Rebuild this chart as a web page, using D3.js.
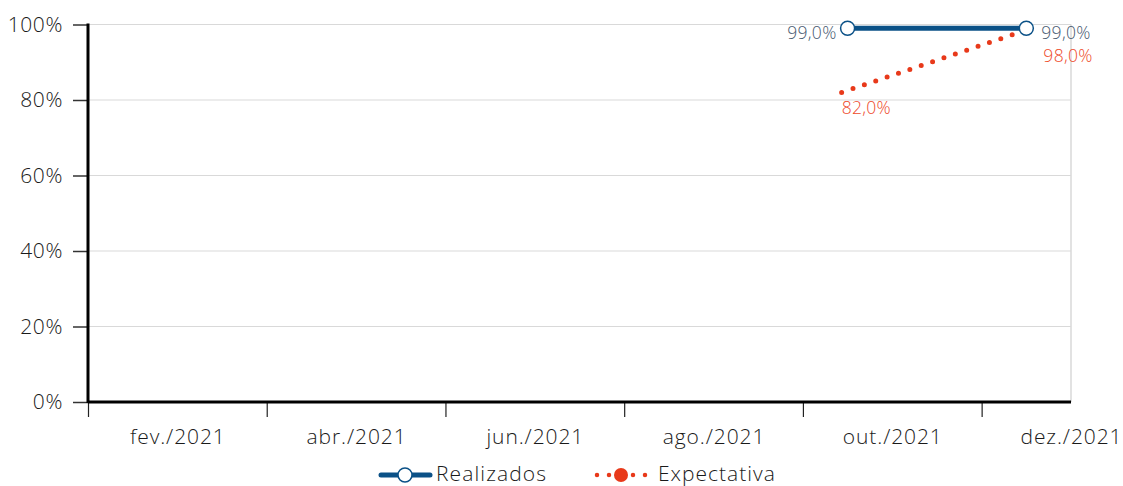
<!DOCTYPE html>
<html>
<head>
<meta charset="utf-8">
<script src="https://cdn.jsdelivr.net/npm/d3@7"></script>
<style>
  html, body { margin: 0; padding: 0; background: #fff; }
  svg text { font-family: "Open Sans", "Lato", sans-serif; font-weight: 300; }
</style>
</head>
<body>
<svg id="chart" width="1123" height="486"></svg>
<script>
// Month labels shown on the x axis (every other month)
const monthLabels = ["fev./2021", "abr./2021", "jun./2021", "ago./2021", "out./2021", "dez./2021"];
const labelMonths = [1, 3, 5, 7, 9, 11];     // month index (0 = jan)
const tickMonths = [0, 2, 4, 6, 8, 10];

// Series
const realizadosDates = ["2021-09-16", "2021-11-16"];
const realizadosValues = [0.99, 0.99];
const expectativaDates = ["2021-09-14", "2021-11-14"];
const expectativaValues = [0.82, 0.98];

const yTicks = [0, 0.2, 0.4, 0.6, 0.8, 1.0];

const colBlue = "#0b5187";
const colRed = "#e8391a";
const colBlueLabel = "#46586f";
const colRedLabel = "#ee4a2a";
const fontFam = "'Open Sans', Lato, sans-serif";

// fractional month position of a date
function monthPos(str) {
  const d = new Date(str + "T00:00:00");
  const m = d.getMonth();
  const days = new Date(d.getFullYear(), m + 1, 0).getDate();
  return m + (d.getDate() - 1) / days;
}

const margin = { left: 88, right: 1071, top: 24.5, bottom: 402 };
const svg = d3.select("#chart");

const x = d3.scaleLinear().domain([0, 11]).range([margin.left, margin.right]);
const y = d3.scaleLinear().domain([0, 1]).range([margin.bottom, margin.top]);

// gridlines
svg.append("g").selectAll("line").data(yTicks.filter(v => v > 0)).join("line")
  .attr("x1", margin.left).attr("x2", margin.right)
  .attr("y1", d => y(d)).attr("y2", d => y(d))
  .attr("stroke", "#d9d9d9").attr("stroke-width", 1);

// right border
svg.append("line")
  .attr("x1", margin.right).attr("x2", margin.right)
  .attr("y1", margin.top).attr("y2", margin.bottom)
  .attr("stroke", "#d9d9d9").attr("stroke-width", 1.5);

// y axis
const yAxis = svg.append("g").attr("transform", `translate(${margin.left},0)`)
  .call(d3.axisLeft(y).tickValues(yTicks).tickSize(15).tickPadding(10)
    .tickFormat(d => d3.format(".0%")(d)));
yAxis.select(".domain").remove();
yAxis.selectAll(".tick line").attr("stroke", "#333").attr("stroke-width", 1.5);
yAxis.selectAll(".tick text").attr("font-size", 21).attr("fill", "#1a1a1a")
  .attr("font-family", fontFam).attr("font-weight", 300)
  .attr("letter-spacing", 0.6);

svg.append("line")
  .attr("x1", margin.left).attr("x2", margin.left)
  .attr("y1", margin.top - 1).attr("y2", margin.bottom + 1)
  .attr("stroke", "#000").attr("stroke-width", 3);

// x axis: ticks every other month, labels between
const xTickG = svg.append("g").attr("transform", `translate(0,${margin.bottom})`)
  .call(d3.axisBottom(x).tickValues(tickMonths).tickSize(15).tickFormat(""));
xTickG.select(".domain").remove();
xTickG.selectAll(".tick line").attr("stroke", "#222").attr("stroke-width", 1.2);

const xLabelG = svg.append("g").attr("transform", `translate(0,${margin.bottom})`)
  .call(d3.axisBottom(x).tickValues(labelMonths).tickSize(0).tickPadding(27)
    .tickFormat((d, i) => monthLabels[i]));
xLabelG.select(".domain").remove();
xLabelG.selectAll(".tick text").attr("font-size", 21).attr("fill", "#1a1a1a")
  .attr("font-family", fontFam).attr("font-weight", 300)
  .attr("letter-spacing", 0.9);

svg.append("line")
  .attr("x1", margin.left).attr("x2", margin.right)
  .attr("y1", margin.bottom).attr("y2", margin.bottom)
  .attr("stroke", "#000").attr("stroke-width", 3);

// Expectativa: dotted line
const expData = expectativaDates.map((d, i) => ({ x: monthPos(d), v: expectativaValues[i] }));
const line = d3.line().x(d => x(d.x)).y(d => y(d.v));
svg.append("path").datum(expData).attr("d", line)
  .attr("fill", "none").attr("stroke", colRed).attr("stroke-width", 5)
  .attr("stroke-linecap", "round").attr("stroke-dasharray", "0 12");

// Realizados: solid line with hollow markers
const realData = realizadosDates.map((d, i) => ({ x: monthPos(d), v: realizadosValues[i] }));
svg.append("path").datum(realData).attr("d", line)
  .attr("fill", "none").attr("stroke", colBlue).attr("stroke-width", 5);
svg.append("g").selectAll("circle").data(realData).join("circle")
  .attr("cx", d => x(d.x)).attr("cy", d => y(d.v)).attr("r", 7)
  .attr("fill", "#fff").attr("stroke", colBlue).attr("stroke-width", 1.5);

// value labels
const pct = d => d3.format(".1f")(d * 100).replace(".", ",") + "%";
svg.append("g").selectAll("text").data(realData).join("text")
  .attr("x", (d, i) => i === 0 ? x(d.x) - 11 : x(d.x) + 15)
  .attr("y", d => y(d.v) + 11)
  .attr("text-anchor", (d, i) => i === 0 ? "end" : "start")
  .attr("font-size", 17.5).attr("font-weight", 400).attr("letter-spacing", 0.3)
  .attr("fill", colBlueLabel)
  .text(d => pct(d.v));
svg.append("g").selectAll("text").data(expData).join("text")
  .attr("x", (d, i) => i === 0 ? x(d.x) : x(d.x) + 23)
  .attr("y", (d, i) => i === 0 ? y(d.v) + 22 : y(d.v) + 30)
  .attr("text-anchor", "start")
  .attr("font-size", 17.5).attr("font-weight", 400).attr("letter-spacing", 0.3)
  .attr("fill", colRedLabel)
  .text(d => pct(d.v));

// legend
const lg = svg.append("g");
const ly = 475;
lg.append("line").attr("x1", 381).attr("x2", 430).attr("y1", ly).attr("y2", ly)
  .attr("stroke", colBlue).attr("stroke-width", 5).attr("stroke-linecap", "round");
lg.append("circle").attr("cx", 405).attr("cy", ly).attr("r", 7)
  .attr("fill", "#fff").attr("stroke", colBlue).attr("stroke-width", 1.5);
lg.append("text").attr("x", 436).attr("y", ly + 6).attr("font-size", 21).attr("fill", "#1a1a1a")
  .attr("letter-spacing", 1.1)
  .text("Realizados");
lg.append("line").attr("x1", 597).attr("x2", 649).attr("y1", ly).attr("y2", ly)
  .attr("stroke", colRed).attr("stroke-width", 4.5).attr("stroke-linecap", "round")
  .attr("stroke-dasharray", "0 12");
lg.append("circle").attr("cx", 621).attr("cy", ly).attr("r", 7).attr("fill", colRed);
lg.append("text").attr("x", 658).attr("y", ly + 6).attr("font-size", 21).attr("fill", "#1a1a1a")
  .attr("letter-spacing", 1.0)
  .text("Expectativa");
</script>
</body>
</html>
